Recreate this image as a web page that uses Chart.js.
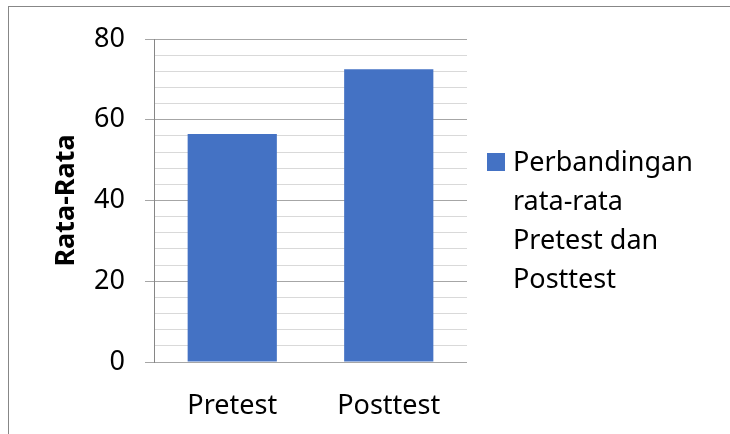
<!DOCTYPE html>
<html>
<head>
<meta charset="utf-8">
<script src="https://cdn.jsdelivr.net/npm/chart.js@4"></script>
<style>
  body { margin: 0; background: #fff; }
  #wrap { position: relative; width: 730px; height: 434px; overflow: hidden; }
  #frame { position: absolute; left: 8px; top: 6px; width: 800px; height: 500px; border: 1px solid #878787; }
  #legend { position: absolute; left: 487px; top: 141px; font-family: "Noto Sans", sans-serif; font-size: 27px; line-height: 39px; color: #000; }
  #legend .box { position: absolute; left: 0; top: 12px; width: 18px; height: 18px; }
  #legend .txt { position: absolute; left: 26px; top: 0; white-space: nowrap; }
</style>
</head>
<body>
<div id="wrap">
  <div id="frame"></div>
  <canvas id="myChart" width="730" height="434"></canvas>
  <div id="legend"></div>
</div>
<script>
const categories = ['Pretest', 'Posttest'];
const rataRata = [56.5, 72.5];
const seriesLabel = ['Perbandingan', 'rata-rata', 'Pretest dan', 'Posttest'];
const yTicks = [0, 20, 40, 60, 80];

const barColor = '#4472C4';

const ctx = document.getElementById('myChart');

let chart = new Chart(ctx, {
  type: 'bar',
  data: {
    labels: categories,
    datasets: [{
      label: seriesLabel.join(' '),
      data: rataRata,
      backgroundColor: barColor,
      barPercentage: 0.57,
      categoryPercentage: 1
    }]
  },
  options: {
    responsive: false,
    animation: false,
    layout: { padding: { top: 39, right: 263, bottom: 0, left: 0 } },
    plugins: {
      legend: { display: false },
      tooltip: { enabled: false }
    },
    scales: {
      x: {
        grid: { display: false },
        border: { display: false },
        ticks: { color: '#000', padding: 20, font: { family: 'Noto Sans', size: 27 } },
        afterFit: (s) => { s.height = 72; }
      },
      y: {
        min: 0,
        max: 80,
        ticks: {
          stepSize: 4,
          autoSkip: false,
          color: '#000',
          padding: 20,
          font: { family: 'Noto Sans', size: 27 },
          callback: (v) => yTicks.includes(v) ? v : ''
        },
        grid: {
          color: (c) => yTicks.includes(c.tick.value) ? '#a6a6a6' : '#d9d9d9',
          tickColor: (c) => yTicks.includes(c.tick.value) ? '#a6a6a6' : 'rgba(0,0,0,0)',
          tickLength: 9,
          lineWidth: 1
        },
        border: { color: '#868686' },
        title: {
          display: true,
          text: 'Rata-Rata',
          color: '#000',
          font: { family: 'Noto Sans', size: 27, weight: 'bold' },
          padding: { top: 50, bottom: 0 }
        },
        afterFit: (s) => { s.width = 154; }
      }
    }
  }
});

// legend as html, from the dataset
const lg = document.getElementById('legend');
const box = document.createElement('div');
box.className = 'box';
box.style.background = chart.data.datasets[0].backgroundColor;
lg.appendChild(box);
const txt = document.createElement('div');
txt.className = 'txt';
txt.innerHTML = seriesLabel.join('<br>');
lg.appendChild(txt);
</script>
</body>
</html>
